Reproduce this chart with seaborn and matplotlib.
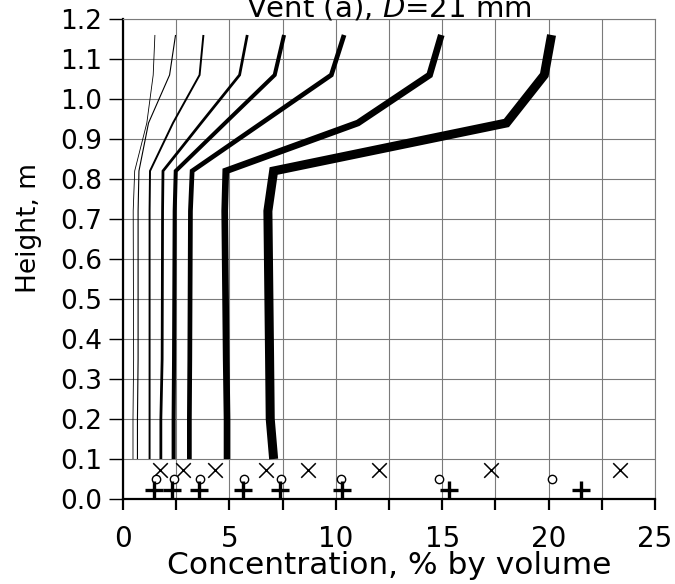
import matplotlib
matplotlib.use("Agg")
import matplotlib.pyplot as plt
import seaborn as sns
import pandas as pd
from matplotlib.ticker import MultipleLocator, FormatStrFormatter, FixedFormatter, FixedLocator

# ---- data ----
heights = [0.10, 0.20, 0.35, 0.72, 0.82, 0.94, 1.06, 1.16]
conc_1 = [0.47, 0.47, 0.50, 0.48, 0.55, 1.12, 1.42, 1.50]
conc_2 = [0.68, 0.68, 0.71, 0.71, 0.75, 1.20, 2.19, 2.47]
conc_3 = [1.25, 1.25, 1.25, 1.25, 1.27, 2.35, 3.60, 3.78]
conc_4 = [1.78, 1.78, 1.84, 1.86, 1.88, 3.67, 5.48, 5.84]
conc_5 = [2.38, 2.38, 2.40, 2.43, 2.48, 4.80, 7.13, 7.57]
conc_6 = [3.12, 3.12, 3.14, 3.17, 3.25, 6.52, 9.79, 10.39]
conc_7 = [4.89, 4.89, 4.85, 4.78, 4.83, 11.04, 14.41, 14.96]
conc_8 = [7.08, 6.92, 6.89, 6.81, 7.08, 18.02, 19.80, 20.14]

cross_x = [1.76, 2.82, 4.31, 6.71, 8.70, 12.03, 17.31, 23.34]
cross_y = [0.073] * 8
circle_x = [1.54, 2.38, 3.64, 5.67, 7.44, 10.26, 14.85, 20.18]
circle_y = [0.050] * 8
plus_x = [1.44, 2.32, 3.57, 5.64, 7.36, 10.31, 15.32, 21.54]
plus_y = [0.022] * 8

x_tick_labels = ["0", "", "5", "", "10", "", "15", "", "20", "", "25"]

# ---- styling ----
sns.set_style("white")
plt.rcParams["font.family"] = ["DejaVu Sans"]
plt.rcParams["mathtext.fontset"] = "dejavusans"
plt.rcParams["text.color"] = "black"
plt.rcParams["axes.labelcolor"] = "black"

fig = plt.figure(figsize=(6.75, 5.84), dpi=100)
ax = fig.add_axes([0.1822, 0.1455, 0.7881, 0.822])

series = [conc_1, conc_2, conc_3, conc_4, conc_5, conc_6, conc_7, conc_8]
widths = [0.6, 0.8, 1.4, 2.0, 2.9, 3.4, 4.8, 6.5]
for conc, lw in zip(series, widths):
    df = pd.DataFrame({"conc": conc, "height": heights})
    sns.lineplot(data=df, x="conc", y="height", orient="y", sort=False,
                 estimator=None, color="black", linewidth=lw, ax=ax,
                 solid_joinstyle="miter", solid_capstyle="butt")

sns.scatterplot(x=cross_x, y=cross_y, marker="x", s=110, color="black",
                linewidth=1.1, ax=ax, clip_on=False, zorder=5)
sns.scatterplot(x=circle_x, y=circle_y, marker="o", s=36, facecolor="white",
                edgecolor="black", linewidth=1.0, ax=ax, clip_on=False, zorder=5)
sns.scatterplot(x=plus_x, y=plus_y, marker="+", s=170, color="black",
                linewidth=2.4, ax=ax, clip_on=False, zorder=5)

ax.set_xlim(0, 25)
ax.set_ylim(0, 1.2)
ax.xaxis.set_major_locator(FixedLocator([i * 2.5 for i in range(11)]))
ax.xaxis.set_major_formatter(FixedFormatter(x_tick_labels))
ax.yaxis.set_major_locator(MultipleLocator(0.1))
ax.yaxis.set_major_formatter(FormatStrFormatter("%.1f"))

ax.grid(True, color="#7a7a7a", linewidth=0.8)
ax.set_axisbelow(True)
for side in ["top", "right"]:
    ax.spines[side].set_color("#7a7a7a")
    ax.spines[side].set_linewidth(0.8)
for side in ["left", "bottom"]:
    ax.spines[side].set_color("black")
    ax.spines[side].set_linewidth(1.6)

ax.tick_params(axis="y", direction="out", length=10, width=1.0, pad=5,
               labelsize=19, colors="black", left=True)
ax.tick_params(axis="x", direction="out", length=8, width=1.6, pad=11,
               labelsize=20, colors="black", bottom=True)

ax.set_xlabel("Concentration, % by volume", fontsize=22.5)
ax.set_ylabel("Height, m", fontsize=19)
ax.xaxis.set_label_coords(0.5, -0.108)
ax.yaxis.set_label_coords(-0.152, 0.565)

fig.text(0.5 * (0.1822 + 0.9703), 1 - 16 / 584, "Vent (a), $D$=21 mm",
         ha="center", va="baseline", fontsize=21)

fig.savefig("out.png", dpi=100)
